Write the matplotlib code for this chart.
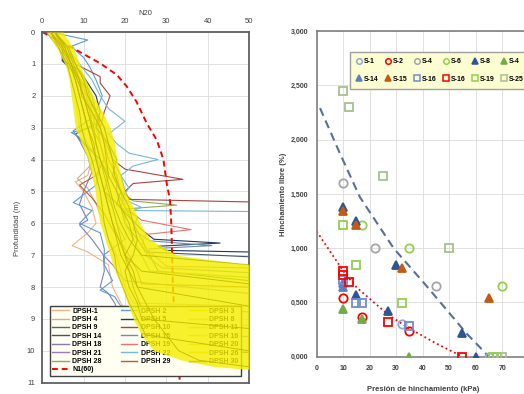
import matplotlib
matplotlib.use('Agg')
import matplotlib.pyplot as plt
from matplotlib.lines import Line2D
from matplotlib.ticker import FuncFormatter, MultipleLocator

plt.rcParams['font.family'] = ['Liberation Sans', 'DejaVu Sans']

# DPSH profiles: (depth m, N20)
dpsh_1 = [(0, 1), (0.5, 4), (1.0, 6), (1.5, 7), (2.0, 8), (2.5, 8.5), (3.0, 9), (3.5, 11), (4.0, 12), (4.5, 11),
          (4.7, 8), (5.0, 10), (5.5, 12), (6.0, 13), (6.3, 11), (6.7, 7.2), (6.9, 11), (7.3, 16), (7.6, 16.4),
          (8.0, 17), (8.5, 19), (9.0, 21), (9.2, 50)]
dpsh_4 = [(0, 2), (0.5, 5), (1.0, 6.5), (1.5, 8), (2.0, 9), (2.5, 10), (3.0, 11), (3.5, 12), (4.0, 13), (4.6, 8.5),
          (4.9, 11), (5.4, 13), (6.0, 15), (6.5, 16), (7.0, 18), (7.5, 19), (8.0, 20), (8.5, 22), (8.6, 50)]
dpsh_9 = [(0, 2), (0.5, 5), (1.0, 7), (1.5, 9), (2.0, 11), (2.5, 13), (3.0, 14), (3.5, 15), (4.0, 16), (4.5, 18),
          (5.0, 18), (5.5, 20), (6.0, 22), (6.5, 24), (7.0, 26), (7.5, 28), (7.8, 50)]
dpsh_14 = [(0, 2), (0.4, 5), (0.9, 4.8), (1.3, 8), (1.8, 11), (2.3, 12), (2.8, 14), (3.2, 8), (3.5, 10), (4.0, 14),
           (4.5, 16), (5.0, 15), (5.5, 19), (6.0, 20), (6.5, 23), (6.9, 25), (7.05, 50)]
dpsh_18 = [(0, 1), (0.5, 4), (0.85, 5), (1.2, 8), (1.7, 10), (2.2, 11), (2.7, 12), (3.1, 7.5), (3.4, 9), (3.9, 11),
           (4.4, 12), (5.0, 10), (5.4, 9), (5.9, 11), (6.05, 9), (6.5, 12), (7.0, 14.8), (7.5, 15), (8.0, 14),
           (8.2, 16), (8.5, 17.5), (9.0, 19), (9.5, 22), (9.55, 50)]
dpsh_21 = [(0, 2), (0.5, 5), (1.0, 8), (1.5, 10), (2.0, 12), (2.5, 13), (3.0, 13.5), (3.5, 14), (4.0, 15), (4.5, 16),
           (5.0, 15), (5.5, 17), (6.0, 18), (6.5, 20), (7.0, 14.8), (7.3, 17), (7.8, 20), (8.2, 50)]
dpsh_28 = [(0, 3), (0.5, 6), (1.0, 8), (1.5, 9), (2.0, 10), (2.5, 12), (3.0, 13), (3.5, 14), (4.0, 15), (4.5, 17),
           (5.0, 19), (5.3, 22), (5.43, 32.5), (5.55, 20), (6.0, 20), (6.5, 22), (7.0, 24), (7.5, 26), (7.7, 50)]
dpsh_2 = [(0, 2), (0.25, 11), (0.45, 7), (0.8, 10), (1.1, 11.5), (1.5, 13), (2.0, 14.5), (2.5, 13), (3.0, 12),
          (3.15, 7), (3.3, 9), (3.7, 12), (4.2, 14), (4.8, 13), (5.35, 7.5), (5.6, 12), (6.0, 9), (6.3, 14),
          (6.8, 15), (7.3, 15), (7.8, 17), (8.1, 14), (8.3, 17.5), (8.6, 19), (8.78, 50)]
dpsh_5 = [(0, 3), (0.5, 5), (0.9, 5), (1.2, 9), (1.6, 11), (2.0, 13), (2.5, 14), (3.0, 13), (3.5, 16), (4.0, 18),
          (4.5, 17), (5.0, 19), (5.4, 18), (5.8, 21), (6.2, 24), (6.5, 27), (6.62, 43), (6.72, 28), (6.85, 30),
          (6.9, 50)]
dpsh_10 = [(0, 3), (0.5, 6), (1.0, 8), (1.4, 14), (1.6, 14), (2.0, 16.4), (2.5, 15), (3.0, 14), (3.5, 15.5),
           (4.0, 17), (4.3, 20), (4.62, 34), (4.75, 22), (5.0, 20), (5.25, 21), (5.33, 50)]
dpsh_15 = [(0, 2), (0.5, 5), (1.0, 8), (1.5, 10), (2.0, 12), (2.5, 13), (3.0, 15), (3.5, 16), (4.0, 17), (4.5, 19),
           (5.0, 20), (5.5, 19), (5.8, 23), (6.2, 22), (6.55, 26), (6.7, 41), (6.8, 26), (7.0, 25), (7.4, 29),
           (7.55, 50)]
dpsh_19 = [(0, 2), (0.5, 5), (1.0, 7), (1.5, 9), (2.0, 11), (2.5, 12), (3.0, 14), (3.5, 15), (4.0, 16), (4.5, 18),
           (5.0, 19), (5.5, 20), (5.9, 24), (6.2, 36), (6.35, 25), (6.7, 24), (7.0, 27), (7.35, 30), (7.4, 50)]
dpsh_22 = [(0, 2), (0.5, 6), (1.0, 9), (1.5, 12), (2.0, 14), (2.4, 16), (2.8, 20), (3.2, 16), (3.5, 18), (3.8, 21),
           (4.0, 28), (4.2, 22), (4.5, 19), (4.9, 21), (5.2, 19), (5.5, 24), (5.6, 22), (5.63, 50)]
dpsh_29 = [(0, 2), (0.5, 5.5), (1.0, 7), (1.5, 8.5), (2.0, 10), (2.5, 11.5), (3.0, 12), (3.5, 14), (4.0, 15),
           (4.5, 13), (4.8, 9), (5.2, 12), (5.7, 15), (6.2, 17), (6.6, 19), (7.0, 21), (7.5, 23), (7.9, 24),
           (8.0, 50)]
dpsh_30 = [(0, 3), (0.5, 5), (1.0, 7), (1.5, 9), (2.0, 10), (2.5, 11), (3.0, 12.5), (3.5, 13), (4.0, 14), (4.5, 15),
           (5.0, 16), (5.5, 17), (6.0, 18), (6.5, 19), (7.0, 20), (7.5, 21), (8.0, 22), (9.0, 25), (9.5, 27),
           (10.0, 30), (10.05, 50)]
# yellow profiles
dpsh_3 = [(0, 2), (0.5, 5), (1, 7), (1.5, 8.5), (2, 10), (2.5, 11), (3, 12), (3.5, 13), (4, 14), (4.5, 15.5),
          (5, 16.5), (5.5, 17.5), (6, 19), (6.5, 21), (7, 24), (7.3, 50)]
dpsh_8 = [(0, 3), (0.5, 6), (1, 7.5), (1.5, 9), (2, 9.5), (2.5, 12), (3, 14), (3.5, 15), (4, 15.5), (4.5, 16),
          (5, 18), (5.5, 19), (6, 21), (6.5, 22), (7, 20), (7.5, 24), (7.9, 50)]
dpsh_11 = [(0, 2), (0.5, 4.5), (1, 6.5), (1.5, 8), (2, 9), (2.5, 10), (3, 11), (3.5, 12.5), (4, 13), (4.5, 14),
           (5, 15), (5.5, 16), (6, 17), (6.5, 18), (7, 19), (7.5, 21), (8, 23), (8.6, 50)]
dpsh_16 = [(0, 3), (0.5, 6.5), (1, 8), (1.5, 10), (2, 11), (2.5, 13), (3, 15), (3.5, 16), (4, 17), (4.5, 17.5),
           (5, 19), (5.5, 21), (6, 22), (6.5, 23), (7, 22), (7.5, 20), (8, 21), (8.5, 23), (9, 24), (9.3, 50)]
dpsh_20 = [(0, 2), (0.5, 4), (1, 6), (1.5, 7), (2, 8), (2.5, 9), (3, 9.5), (3.5, 10.5), (4, 12), (4.5, 13), (5, 14),
           (5.5, 14.5), (6, 15), (6.5, 16), (7, 17.5), (7.5, 18), (8, 19.5), (8.5, 21), (9, 23), (9.5, 25), (10, 50)]
dpsh_26 = [(0, 3), (0.5, 5.5), (1, 7), (1.5, 8), (2, 9), (2.5, 10), (3, 11), (3.5, 12), (4, 13), (4.5, 14), (5, 15),
           (5.5, 16), (6, 17), (6.5, 18.5), (7, 20), (7.5, 22), (8, 23), (8.5, 25), (9, 27), (9.5, 30), (10, 33),
           (10.3, 38), (10.5, 50)]

# yellow band envelope
band_z = [0, 0.5, 1, 1.5, 2, 2.5, 3, 3.5, 4, 4.5, 5, 5.5, 6, 6.5, 7, 7.3, 8, 9, 9.5, 10, 10.3, 10.5, 10.58]
band_left = [1, 3.5, 5.5, 6.5, 7, 7.5, 8, 9.5, 11, 12, 12.8, 13.2, 14, 15.2, 16.4, 17, 19.2, 22, 24, 27, 34, 42, 50]
band_right = [5, 7.5, 9, 10.5, 12.3, 14.5, 16.4, 17.5, 18, 19, 20, 22, 23.6, 26, 32.5, 50, 50, 50, 50, 50, 50, 50, 50]

# N1(60)
n1_z = [0, 0.57, 0.98, 1.34, 1.7, 2.19, 2.87, 3.39, 4.0, 4.75, 5.28, 6.0, 7.0, 8.0, 9.0, 10.0, 11.0]
n1_n = [0, 8.3, 14, 18, 20.4, 22.8, 25.3, 27.7, 29.3, 30.1, 30.9, 31.2, 31.4, 31.6, 32.0, 32.6, 33.3]

colored = [
    ('DPSH-1', dpsh_1, '#f4b183'), ('DPSH 4', dpsh_4, '#cdb08a'), ('DPSH 9', dpsh_9, '#56695a'),
    ('DPSH 14', dpsh_14, '#44546a'), ('DPSH 18', dpsh_18, '#7f7fbf'), ('DPSH 21', dpsh_21, '#9c7bb8'),
    ('DPSH 28', dpsh_28, '#8eaa5c'),
    ('DPSH 2', dpsh_2, '#5b9bd5'), ('DPSH 5', dpsh_5, '#1f3864'), ('DPSH 10', dpsh_10, '#a9443f'),
    ('DPSH 15', dpsh_15, '#6d8cae'), ('DPSH 19', dpsh_19, '#e8766f'), ('DPSH 22', dpsh_22, '#74b9d8'),
    ('DPSH 29', dpsh_29, '#b85c3c'),
]
yellow = [('DPSH 3', dpsh_3), ('DPSH 8', dpsh_8), ('DPSH 11', dpsh_11), ('DPSH 16', dpsh_16),
          ('DPSH 20', dpsh_20), ('DPSH 26', dpsh_26)]
last = ('DPSH 30', dpsh_30, '#3f4a2c')

# swelling tests: (presion kPa, hinchamiento %)
s_1 = [(65, 0.0), (32, 0.30)]
s_2 = [(10, 0.545), (17, 0.37), (35, 0.24)]
s_4 = [(10, 1.60), (22, 1.0), (45, 0.65)]
s_6 = [(17, 1.21), (35, 1.0), (70, 0.65)]
s_8 = [(10, 1.38), (15, 1.25), (30, 0.84), (27, 0.42), (55, 0.215), (60, 0.0), (15, 0.57)]
s_4b = [(10, 0.44), (17, 0.345), (35, 0.0)]
s_14 = [(10, 0.64), (10, 0.68)]
s_15 = [(10, 1.34), (15, 1.215), (32, 0.82), (65, 0.545)]
s_16 = [(15, 0.49), (17, 0.49), (35, 0.28), (10, 0.71)]
s_16b = [(10, 0.79), (10, 0.75), (12, 0.69), (27, 0.32), (55, 0.0)]
s_19 = [(10, 1.215), (15, 0.843), (32, 0.49), (66.5, 0.0), (68, 0.0)]
s_25 = [(10, 2.45), (12, 2.30), (25, 1.66), (50, 1.0), (70, 0.0)]

trend_blue = [(1.25, 2.29), (8.8, 1.87), (16.3, 1.47), (29, 1.0), (41.5, 0.65), (56.5, 0.215), (65, 0.0)]
trend_red = [(0, 1.154), (10, 0.79), (15, 0.64), (27, 0.385), (35, 0.26), (45, 0.123), (55, 0.0)]

tests = [
    ('S-1', s_1, 'o', '#8faadc', False), ('S-2', s_2, 'o', '#ff0000', False),
    ('S-4', s_4, 'o', '#a6a6a6', False), ('S-6', s_6, 'o', '#92d050', False),
    ('S-8', s_8, '^', '#2f5597', True), ('S-4', s_4b, '^', '#70ad47', True),
    ('S-14', s_14, '^', '#5b7fc4', True), ('S-15', s_15, '^', '#c55a11', True),
    ('S-16', s_16, 's', '#6f8fcf', False), ('S-16', s_16b, 's', '#ff0000', False),
    ('S-19', s_19, 's', '#92d050', False), ('S-25', s_25, 's', '#a9c08e', False),
]

fig = plt.figure(figsize=(5.24, 3.94), dpi=100)
tick_col = '#404040'

# ---------- left panel ----------
ax = fig.add_axes([0.0807, 0.0287, 0.3945, 0.890])
for name, pts, col in colored + [last]:
    ax.plot([p[1] for p in pts], [p[0] for p in pts], color=col, lw=0.8, zorder=2)
ax.plot(n1_n, n1_z, color='#ff0000', lw=1.4, dashes=(3, 2), zorder=2.5)
ax.fill_betweenx(band_z, band_left, band_right, color='#f4ee00', alpha=0.82, lw=0, zorder=4)
for name, pts in yellow:
    ax.plot([p[1] for p in pts], [p[0] for p in pts], color='#bdb400', lw=0.7, alpha=0.8, zorder=4.5)

ax.set_xlim(0, 50)
ax.set_ylim(11, 0)
ax.xaxis.tick_top()
ax.xaxis.set_label_position('top')
ax.set_xticks(range(0, 51, 10))
ax.set_yticks(range(0, 12))
ax.tick_params(length=0, labelsize=5.5, colors=tick_col, pad=5)
ax.grid(True, color='#dcdcdc', lw=0.6)
ax.set_axisbelow(True)
for sp in ax.spines.values():
    sp.set_color('#606060')
    sp.set_linewidth(1.3)
ax.set_xlabel('N20', fontsize=5.5, color=tick_col, labelpad=2)
ax.set_ylabel('Profundidad (m)', fontsize=5.5, color=tick_col)
ax.yaxis.set_label_coords(-0.105, 0.44)

handles = {name: Line2D([], [], color=col, lw=1) for name, pts, col in colored + [last]}
for name, pts in yellow:
    handles[name] = Line2D([], [], color='#e3dc1a', lw=1)
handles['N1(60)'] = Line2D([], [], color='#ff0000', lw=1.4, dashes=(3, 2))
order = ['DPSH-1', 'DPSH 4', 'DPSH 9', 'DPSH 14', 'DPSH 18', 'DPSH 21', 'DPSH 28', 'N1(60)',
         'DPSH 2', 'DPSH 5', 'DPSH 10', 'DPSH 15', 'DPSH 19', 'DPSH 22', 'DPSH 29',
         'DPSH 3', 'DPSH 8', 'DPSH 11', 'DPSH 16', 'DPSH 20', 'DPSH 26', 'DPSH 30']
leg = ax.legend([handles[k] for k in order], order, ncol=3, loc='lower left',
                bbox_to_anchor=(0.021, 0.0106, 0.955, 0.19), mode='expand',
                prop={'size': 5, 'weight': 'bold'}, handlelength=2.4, handletextpad=0.5,
                labelspacing=0.2, borderpad=0.3, columnspacing=0.8, fancybox=False, framealpha=1)
leg.get_frame().set_facecolor('#fffff2')
leg.get_frame().set_edgecolor('#404040')
leg.get_frame().set_linewidth(1.0)
leg.set_zorder(3)

# ---------- right panel ----------
bx = fig.add_axes([0.6044, 0.0947, 0.4046, 0.8266])
bx.plot([p[0] for p in trend_blue], [p[1] for p in trend_blue], color='#5a6f96', lw=1.5, dashes=(4, 2.5), zorder=2)
bx.plot([p[0] for p in trend_red], [p[1] for p in trend_red], color='#ff0000', lw=1.3, ls=':', zorder=2)

leg_handles = []
for name, pts, mk, col, filled in tests:
    face = col if filled else 'none'
    bx.plot([p[0] for p in pts], [p[1] for p in pts], ls='none', marker=mk, ms=6,
            mec=col, mfc=face, mew=1.3, zorder=3)
    leg_handles.append(Line2D([], [], ls='none', marker=mk, ms=4, mec=col, mfc=face, mew=1.1))
labels = [t[0] for t in tests]
idx = [0, 6, 1, 7, 2, 8, 3, 9, 4, 10, 5, 11]
lg = bx.legend([leg_handles[i] for i in idx], [labels[i] for i in idx], ncol=6, loc='upper left',
               bbox_to_anchor=(0.143, 0.945), prop={'size': 5, 'weight': 'bold'},
               handlelength=0.8, handletextpad=0.25, columnspacing=1.0, labelspacing=1.5,
               borderpad=0.85, fancybox=False, framealpha=1)
lg.get_frame().set_facecolor('#fdfdd2')
lg.get_frame().set_edgecolor('#a0a0a0')

bx.set_xlim(0, 80)
bx.set_ylim(0, 3)
bx.xaxis.set_major_locator(MultipleLocator(10))
bx.yaxis.set_major_locator(MultipleLocator(0.5))
bx.yaxis.set_major_formatter(FuncFormatter(lambda v, p: f'{v:.3f}'.replace('.', ',')))
bx.tick_params(length=0, labelsize=5, colors=tick_col, pad=6)
for lab in bx.get_xticklabels() + bx.get_yticklabels():
    lab.set_fontweight('bold')
bx.grid(True, color='#dcdcdc', lw=0.6)
bx.set_axisbelow(True)
for sp in bx.spines.values():
    sp.set_color('#808080')
    sp.set_linewidth(1.2)
bx.set_xlabel('Presión de hinchamiento (kPa)', fontsize=5.5, fontweight='bold', color=tick_col, labelpad=10)
bx.set_ylabel('Hinchamiento libre (%)', fontsize=5.5, fontweight='bold', color=tick_col, labelpad=3)

fig.savefig('out.png', dpi=100)
